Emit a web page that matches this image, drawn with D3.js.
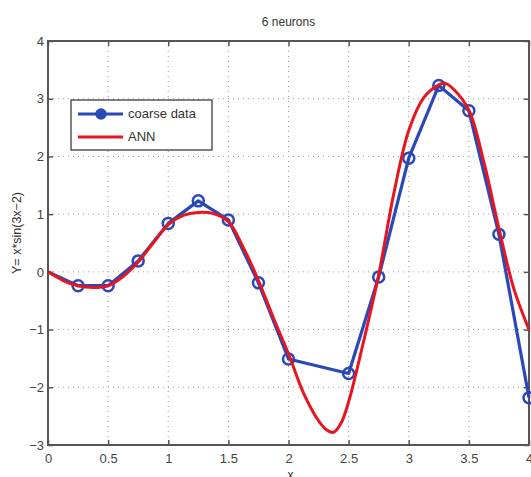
<!DOCTYPE html>
<html>
<head>
<meta charset="utf-8">
<script src="https://cdn.jsdelivr.net/npm/d3@7"></script>
<style>
  body { margin: 0; background: #fff; }
  text { font-family: "Liberation Sans", Arial, sans-serif; }
</style>
</head>
<body>
<div id="chart"></div>
<script>
// coarse samples of y = x*sin(3x-2)
var coarseX = [0, 0.25, 0.5, 0.75, 1, 1.25, 1.5, 1.75, 2, 2.5, 2.75, 3, 3.25, 3.5, 3.75, 4];
var coarseY = [0, -0.24, -0.24, 0.19, 0.84, 1.23, 0.9, -0.19, -1.51, -1.76, -0.09, 1.97, 3.23, 2.79, 0.65, -2.18];

// ANN output
var annX = [0, 0.125, 0.25, 0.375, 0.5, 0.625, 0.75, 0.875, 1, 1.125, 1.25, 1.375, 1.5, 1.625, 1.75, 1.875,
            2, 2.125, 2.25, 2.3125, 2.375, 2.4375, 2.5, 2.625, 2.75, 2.875, 3, 3.125, 3.25, 3.3, 3.375, 3.5, 3.625, 3.75, 3.875, 4];
var annY = [0, -0.15, -0.24, -0.27, -0.24, -0.08, 0.17, 0.5, 0.82, 0.98, 1.03, 1.01, 0.87, 0.42, -0.15, -0.8,
            -1.42, -2.1, -2.58, -2.73, -2.78, -2.62, -2.25, -1.2, -0.05, 1.35, 2.45, 3.02, 3.24, 3.27, 3.16, 2.8, 1.9, 0.75, -0.3, -1.0];

var xTicks = [0, 0.5, 1, 1.5, 2, 2.5, 3, 3.5, 4];
var yTicks = [-3, -2, -1, 0, 1, 2, 3, 4];
var seriesNames = ["coarse data", "ANN"];

var W = 531, H = 477;
var margin = {top: 41, right: 2, bottom: 32, left: 48},
    width = W - margin.left - margin.right,
    height = H - margin.top - margin.bottom;

var svg = d3.select("#chart").append("svg")
    .attr("width", W).attr("height", H)
  .append("g")
    .attr("transform", "translate(" + margin.left + "," + margin.top + ")");

var x = d3.scaleLinear().domain([0, 4]).range([0, width]);
var y = d3.scaleLinear().domain([-3, 4]).range([height, 0]);

var blue = "#2a48b8", red = "#e8141e", axisCol = "#555";

// title
svg.append("text")
  .attr("x", width / 2).attr("y", -15)
  .attr("text-anchor", "middle")
  .style("font-size", "12px").style("fill", "#333")
  .text("6 neurons");

// grid
svg.append("g").selectAll("line.gx")
  .data(xTicks.slice(1, -1)).enter().append("line")
    .attr("x1", d => x(d)).attr("x2", d => x(d))
    .attr("y1", 0).attr("y2", height)
    .attr("stroke", "#999").attr("stroke-width", 1).attr("stroke-dasharray", "1,4");
svg.append("g").selectAll("line.gy")
  .data(yTicks.slice(1, -1)).enter().append("line")
    .attr("y1", d => y(d)).attr("y2", d => y(d))
    .attr("x1", 0).attr("x2", width)
    .attr("stroke", "#999").attr("stroke-width", 1).attr("stroke-dasharray", "1,4");

// axes (ticks inward, matlab style)
svg.append("g")
  .attr("transform", "translate(0," + height + ")")
  .call(d3.axisBottom(x).tickValues(xTicks).tickSize(-5).tickPadding(9).tickFormat(d3.format("")))
  .call(g => g.select(".domain").remove());
svg.append("g")
  .call(d3.axisTop(x).tickValues(xTicks).tickSize(-5).tickFormat(""))
  .call(g => g.select(".domain").remove());
svg.append("g")
  .call(d3.axisLeft(y).tickValues(yTicks).tickSize(-5).tickPadding(4).tickFormat(d3.format("")))
  .call(g => g.select(".domain").remove());
svg.append("g")
  .attr("transform", "translate(" + width + ",0)")
  .call(d3.axisRight(y).tickValues(yTicks).tickSize(-5).tickFormat(""))
  .call(g => g.select(".domain").remove());
svg.selectAll(".tick line").attr("stroke", axisCol).attr("stroke-width", 1.5);
svg.selectAll(".tick text").style("font-size", "13px").style("fill", "#444");

svg.append("rect")
  .attr("width", width).attr("height", height)
  .attr("fill", "none").attr("stroke", axisCol).attr("stroke-width", 2);

// axis labels
svg.append("text")
  .attr("transform", "translate(-27," + (height / 2 - 10) + ") rotate(-90)")
  .attr("text-anchor", "middle")
  .style("font-size", "12.5px").style("fill", "#333")
  .text("Y= x*sin(3x\u22122)");
svg.append("text")
  .attr("x", width / 2 + 2).attr("y", height + 34)
  .attr("text-anchor", "middle")
  .style("font-size", "12px").style("fill", "#333")
  .text("x");

// data
var coarse = coarseX.map((d, i) => ({x: d, y: coarseY[i]}));
var ann = annX.map((d, i) => ({x: d, y: annY[i]}));

svg.append("clipPath").attr("id", "clip")
  .append("rect").attr("x", -1).attr("y", -1).attr("width", width + 10).attr("height", height + 2);

var plot = svg.append("g").attr("clip-path", "url(#clip)");

var lineStraight = d3.line().x(d => x(d.x)).y(d => y(d.y));
var lineSmooth = d3.line().x(d => x(d.x)).y(d => y(d.y)).curve(d3.curveCatmullRom.alpha(0.5));

plot.append("path").datum(coarse)
  .attr("d", lineStraight)
  .attr("fill", "none").attr("stroke", blue).attr("stroke-width", 3.2)
  .attr("stroke-linejoin", "round");

plot.selectAll("circle.pt")
  .data(coarse.slice(1)).enter().append("circle")
    .attr("cx", d => x(d.x)).attr("cy", d => y(d.y))
    .attr("r", 5.5)
    .attr("fill", "none").attr("stroke", blue).attr("stroke-width", 2.5);

plot.append("path").datum(ann)
  .attr("d", lineSmooth)
  .attr("fill", "none").attr("stroke", red).attr("stroke-width", 3);

// legend
var lg = svg.append("g").attr("transform", "translate(" + (71 - margin.left) + "," + (100 - margin.top) + ")");
lg.append("rect").attr("width", 141).attr("height", 50)
  .attr("fill", "#fff").attr("stroke", axisCol).attr("stroke-width", 1.5);
lg.selectAll("line.leg")
  .data(seriesNames).enter().append("line")
    .attr("x1", 7).attr("x2", 52)
    .attr("y1", (d, i) => 14 + i * 23).attr("y2", (d, i) => 14 + i * 23)
    .attr("stroke", (d, i) => i === 0 ? blue : red)
    .attr("stroke-width", 3.2);
lg.append("circle").attr("cx", 30).attr("cy", 14).attr("r", 5)
  .attr("fill", blue).attr("stroke", blue).attr("stroke-width", 1.5);
lg.selectAll("text.leg")
  .data(seriesNames).enter().append("text")
    .attr("x", 57).attr("y", (d, i) => 18 + i * 23)
    .style("font-size", "13px").style("fill", "#333")
    .text(d => d);
</script>
</body>
</html>
